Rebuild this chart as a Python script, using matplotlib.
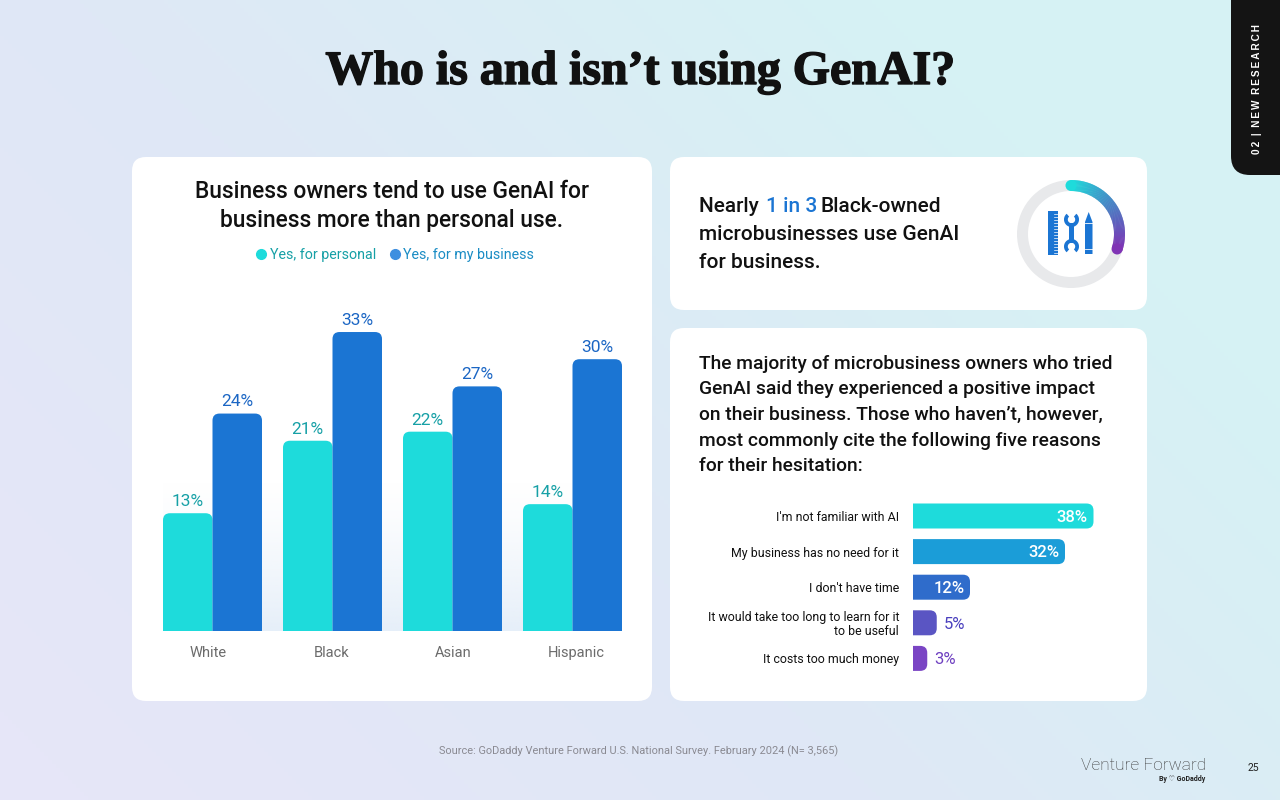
import numpy as np
import matplotlib
matplotlib.use("Agg")
import matplotlib.pyplot as plt
import matplotlib.patheffects as pe
from matplotlib.patches import FancyBboxPatch, PathPatch, Wedge, Circle, Rectangle, Polygon
from matplotlib.path import Path
from matplotlib.lines import Line2D
from matplotlib.colors import LinearSegmentedColormap

plt.rcParams['font.family'] = ['Roboto', 'DejaVu Sans']

# data
groups = ['White', 'Black', 'Asian', 'Hispanic']
personal = [13, 21, 22, 14]
business = [24, 33, 27, 30]
reasons = ["I'm not familiar with AI", "My business has no need for it", "I don't have time",
           "It would take too long to learn for it\nto be useful", "It costs too much money"]
reason_vals = [38, 32, 12, 5, 3]
reason_colors = ['#1EDBDB', '#1B9DD8', '#2F6CCB', '#5A55C3', '#7A45C4']
reason_text = ['white', 'white', 'white', '#4A40BE', '#6E3FC0']
ring_share = 0.30

C_PERSONAL = '#1EDBDB'
C_BUSINESS = '#1B75D3'
W, H = 1280, 800


def px_axes(fig, left, top, right, bottom):
    return fig.add_axes([left / W, 1 - bottom / H, (right - left) / W, (bottom - top) / H])


def card(ax, l, t, r, b, rad=14):
    ax.add_patch(FancyBboxPatch((l + rad, t + rad), r - l - 2 * rad, b - t - 2 * rad,
                                boxstyle="round,pad=%d,rounding_size=%d" % (rad, rad),
                                fc='white', ec='none', zorder=2))


def top_round_bar(ax, x0, x1, y0, y1, rx, ry, color):
    verts = [(x0, y0), (x0, y1 - ry), (x0, y1), (x0 + rx, y1), (x1 - rx, y1), (x1, y1), (x1, y1 - ry), (x1, y0), (x0, y0)]
    codes = [Path.MOVETO, Path.LINETO, Path.CURVE3, Path.CURVE3, Path.LINETO, Path.CURVE3, Path.CURVE3, Path.LINETO, Path.CLOSEPOLY]
    ax.add_patch(PathPatch(Path(verts, codes), fc=color, ec='none'))


def right_round_bar(ax, x0, x1, y0, y1, rx, ry, color):
    verts = [(x0, y0), (x1 - rx, y0), (x1, y0), (x1, y0 + ry), (x1, y1 - ry), (x1, y1), (x1 - rx, y1), (x0, y1), (x0, y0)]
    codes = [Path.MOVETO, Path.LINETO, Path.CURVE3, Path.CURVE3, Path.LINETO, Path.CURVE3, Path.CURVE3, Path.LINETO, Path.CLOSEPOLY]
    ax.add_patch(PathPatch(Path(verts, codes), fc=color, ec='none'))


fig = plt.figure(figsize=(12.8, 8), dpi=100)
bg = fig.add_axes([0, 0, 1, 1])
bg.set_xlim(0, W)
bg.set_ylim(H, 0)
bg.axis('off')

# background gradient, lavender bottom left to pale cyan top right
gx, gy = np.meshgrid(np.linspace(0, 1, 320), np.linspace(0, 1, 200))
grad = np.clip(0.8 * gx + 0.5 * (1 - gy) - 0.05, 0, 1)
cmap = LinearSegmentedColormap.from_list('bg', ['#E6E6F8', '#DFE8F6', '#D6F2F4'])
bg.imshow(grad, extent=[0, W, H, 0], cmap=cmap, aspect='auto', zorder=0, vmin=0, vmax=1)

card(bg, 132, 157, 652, 701)
card(bg, 670, 157, 1147, 310)
card(bg, 670, 328, 1147, 701)

# pale blue haze behind the bars
haze = np.zeros((100, 2, 4))
haze[..., :3] = matplotlib.colors.to_rgb('#E6EFF9')
haze[..., 3] = np.linspace(0, 1, 100)[:, None] ** 1.3
bg.imshow(haze, extent=[163, 622, 631, 480], aspect='auto', zorder=2.5, origin='upper')

# dark tab top right
bg.add_patch(FancyBboxPatch((1250, -40), 60, 196, boxstyle="round,pad=19,rounding_size=19",
                            fc='#141414', ec='none', zorder=2))
bg.text(1256.5, 89, '0\u20092\u2009 \u200a|\u200a \u2009N\u2009E\u2009W\u200a\u2009 R\u2009E\u2009S\u2009E\u2009A\u2009R\u2009C\u2009H',
        rotation=90, color='white', fontsize=7.2, fontweight='bold', ha='center', va='center', zorder=3,
        family=['Liberation Sans', 'DejaVu Sans'])

bg.text(640, 72, 'Who is and isn\u2019t using GenAI?', family='Liberation Serif', fontweight='bold',
        fontsize=34.5, color='#111111', ha='center', va='center', zorder=3,
        path_effects=[pe.withStroke(linewidth=1.0, foreground='#111111')])

bg.text(392, 206, 'Business owners tend to use GenAI for\nbusiness more than personal use.', fontsize=16.4,
        fontweight='medium', color='#111111', ha='center', va='center', linespacing=1.28, zorder=3)

# legend
handles = [Line2D([], [], marker='o', ls='', ms=7, color=C_PERSONAL),
           Line2D([], [], marker='o', ls='', ms=7, color='#3E8FE0')]
leg = bg.legend(handles, ['Yes, for personal', 'Yes, for my business'], ncol=2, frameon=False,
                loc='center', bbox_to_anchor=(394, 255), bbox_transform=bg.transData, fontsize=10.25,
                labelcolor=['#16A0A6', '#1A8CC4'], handlelength=1, handletextpad=0.1, columnspacing=0.8,
                borderpad=0, borderaxespad=0)
leg.set_zorder(3)

# grouped bars
ax = px_axes(fig, 152.5, 323, 632.5, 631)
ax.patch.set_alpha(0)
ax.set_xlim(-0.5, 3.5)
ax.set_ylim(0, 308 / 9.06)
x = np.arange(len(groups))
bw = 0.4125
rx, ry = 7 / 120, 7 / 9.06
for i in x:
    top_round_bar(ax, i - bw, i, 0, personal[i], rx, ry, C_PERSONAL)
    top_round_bar(ax, i, i + bw, 0, business[i], rx, ry, C_BUSINESS)
    ax.annotate('%d%%' % personal[i], (i - bw / 2, personal[i]), xytext=(0, 3), textcoords='offset points',
                ha='center', va='bottom', fontsize=12.5, color='#16A0A6', annotation_clip=False)
    ax.annotate('%d%%' % business[i], (i + bw / 2, business[i]), xytext=(0, 3), textcoords='offset points',
                ha='center', va='bottom', fontsize=12.5, color='#1B66C4', annotation_clip=False)
ax.set_xticks(x + np.array([-4, -1, 1, 4]) / 120)
ax.set_xticklabels(groups, fontsize=10.5, color='#6B6B6B')
ax.tick_params(axis='x', length=0, pad=10.5)
ax.set_yticks([])
for s in ax.spines.values():
    s.set_visible(False)

# nearly 1 in 3 card
body = dict(fontsize=15, fontweight='medium', color='#111111', va='center', zorder=3)
bg.text(699, 206, 'Nearly ', **body)
bg.text(766, 206, '1 in 3', **{**body, 'color': '#1B75D3'})
bg.text(821, 206, 'Black-owned', **body)
bg.text(699, 235, 'microbusinesses use GenAI', **body)
bg.text(699, 263, 'for business.', **body)

# ring with gradient arc
cx, cy, r_out, ring_w = 1071, 234, 54, 11
bg.add_patch(Wedge((cx, cy), r_out, 0, 360, width=ring_w, fc='#E8E9EB', ec='none', zorder=3))
ring_cmap = LinearSegmentedColormap.from_list('ring', ['#1EDBDB', '#3A9FCB', '#5A66BE', '#8034B5'])
angles = np.linspace(0, ring_share * 360, 90)
r_mid = r_out - ring_w / 2
# y axis is flipped in px coords, so clockwise on screen is increasing angle here
for k in range(len(angles) - 1):
    a0, a1 = angles[k] - 90, angles[k + 1] - 90 + 0.6
    bg.add_patch(Wedge((cx, cy), r_out, a0, a1, width=ring_w, fc=ring_cmap(k / (len(angles) - 2)), ec='none', zorder=4))
for ang, c in [(angles[0], ring_cmap(0.0)), (angles[-1], ring_cmap(1.0))]:
    t = np.deg2rad(ang - 90)
    bg.add_patch(Circle((cx + r_mid * np.cos(t), cy + r_mid * np.sin(t)), ring_w / 2, fc=c, ec='none', zorder=4))

# tool icon: ruler, wrench, pencil
blue = '#1B75D3'
bg.add_patch(Rectangle((1048, 211), 10, 44, fc=blue, ec='none', zorder=4))
for yy in np.arange(214, 254, 3):
    bg.plot([1054, 1058], [yy, yy], color='white', lw=0.5, zorder=5)
bg.add_patch(Rectangle((1069.3, 223), 4.4, 20, fc=blue, ec='none', zorder=4))
bg.add_patch(Wedge((1071.5, 219.5), 7.5, -50, 230, width=3.8, fc=blue, ec='none', zorder=4))
bg.add_patch(Wedge((1071.5, 246.5), 7.5, 130, 410, width=3.8, fc=blue, ec='none', zorder=4))
bg.add_patch(Polygon([(1085, 222), (1088.7, 212), (1092.5, 222), (1092.5, 254), (1085, 254)], fc=blue, ec='none', zorder=4))
bg.plot([1085, 1092.5], [223, 223], color='white', lw=0.6, zorder=5)
bg.plot([1085, 1092.5], [249, 249], color='white', lw=0.6, zorder=5)

# hesitation text
bg.text(699, 415, 'The majority of microbusiness owners who tried\nGenAI said they experienced a positive impact\n'
        'on their business. Those who haven\u2019t, however,\nmost commonly cite the following five reasons\n'
        'for their hesitation:', fontsize=13.9, fontweight='medium', color='#111111', va='center', ha='left',
        linespacing=1.54, zorder=3)

# horizontal bars
ax2 = px_axes(fig, 913, 498.2, 1130, 676.2)
ax2.patch.set_alpha(0)
ax2.set_xlim(0, 217 / 4.75)
ax2.set_ylim(4.5, -0.5)
y = np.arange(len(reasons))
bh = 25 / 35.6
for i in y:
    right_round_bar(ax2, 0, reason_vals[i], i - bh / 2, i + bh / 2, 7 / 4.75, 7 / 35.6, reason_colors[i])
    if reason_vals[i] >= 10:
        ax2.annotate('%d%%' % reason_vals[i], (reason_vals[i], i), xytext=(-4, -1), textcoords='offset points',
                     ha='right', va='center', fontsize=12, fontweight='medium', color=reason_text[i])
    else:
        ax2.annotate('%d%%' % reason_vals[i], (reason_vals[i], i), xytext=(5, -1), textcoords='offset points',
                     ha='left', va='center', fontsize=12, color=reason_text[i])
ax2.set_yticks(y)
ax2.set_yticklabels(reasons, fontsize=8.9, color='#111111', linespacing=1.05)
ax2.tick_params(axis='y', length=0, pad=10)
ax2.set_xticks([])
for s in ax2.spines.values():
    s.set_visible(False)

# footer
bg.text(639, 751, 'Source: GoDaddy Venture Forward U.S. National Survey. February 2024 (N= 3,565)', fontsize=7.9,
        color='#8A8A92', ha='center', va='center', zorder=3)
bg.text(1206, 765, 'Venture Forward', fontsize=12.5, fontweight='light', color='#3A3A3A', ha='right', va='center', zorder=3)
bg.text(1205, 779, 'By \u2661 GoDaddy', fontsize=5, fontweight='bold', color='#222222', ha='right', va='center', zorder=3)
bg.text(1253, 768, '25', fontsize=7.5, color='#222222', ha='center', va='center', zorder=3)

fig.savefig('out.png', dpi=100)
